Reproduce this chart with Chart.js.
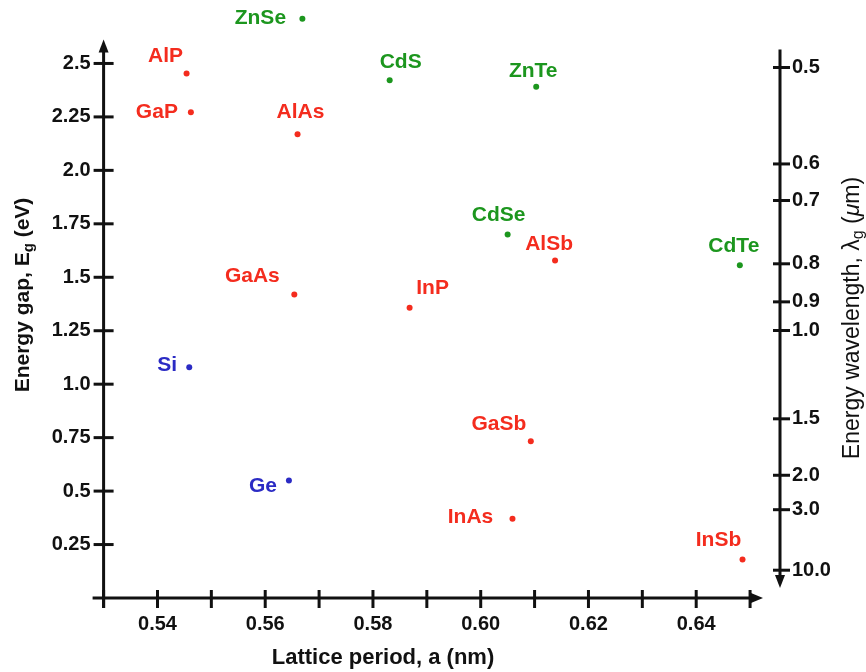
<!DOCTYPE html>
<html><head><meta charset="utf-8">
<script src="https://cdn.jsdelivr.net/npm/chart.js@4"></script>
<style>html,body{margin:0;padding:0;background:#fff}canvas{display:block}</style>
</head><body>
<canvas id="c" width="866" height="672"></canvas>
<script>
// ---- data ----
const iiivNames   = ['AlP','GaP','AlAs','GaAs','InP','AlSb','GaSb','InAs','InSb'];
const iiivLattice = [0.5454,0.5462,0.5660,0.5654,0.5868,0.6138,0.6093,0.6059,0.6486];
const iiivGap     = [2.453,2.272,2.169,1.419,1.357,1.578,0.733,0.371,0.180];

const iiviNames   = ['ZnSe','CdS','ZnTe','CdSe','CdTe'];
const iiviLattice = [0.5669,0.5831,0.6103,0.6050,0.6481];
const iiviGap     = [2.709,2.421,2.391,1.700,1.556];

const ivNames     = ['Si','Ge'];
const ivLattice   = [0.5459,0.5644];
const ivGap       = [1.079,0.549];

const xTickValues = [0.53,0.54,0.55,0.56,0.57,0.58,0.59,0.60,0.61,0.62,0.63,0.64,0.65];
const xTickLabels = ['','0.54','','0.56','','0.58','','0.60','','0.62','','0.64',''];
const yTickValues = [0.25,0.5,0.75,1.0,1.25,1.5,1.75,2.0,2.25,2.5];
const yTickLabels = ['0.25','0.5','0.75','1.0','1.25','1.5','1.75','2.0','2.25','2.5'];
const wavelengthLabels = ['0.5','0.6','0.7','0.8','0.9','1.0','1.5','2.0','3.0','10.0'];
const wavelengthGapPositions = [2.481,2.030,1.859,1.563,1.385,1.251,0.838,0.574,0.413,0.130];

// ---- styling ----
const RED = '#f42c1e', GREEN = '#1c961e', BLUE = '#2b2bc4', INK = '#111111';
const FAMILY = '"Liberation Sans", Arial, Helvetica, sans-serif';
const Y_ARROW_TIP = 2.612;   // where the left axis arrow ends (axis units)
const labelOffsets = {
  AlP:[-21,-17], GaP:[-34,0], AlAs:[3,-22], GaAs:[-42,-18], InP:[23,-20], AlSb:[-6,-16],
  GaSb:[-32,-17], InAs:[-42,-1], InSb:[-24,-19],
  ZnSe:[-42,-1], CdS:[11,-18], ZnTe:[-3,-16], CdSe:[-9,-19], CdTe:[-6,-19],
  Si:[-22,-2], Ge:[-26,6]
};

const mk = (names, xs, ys) => xs.map((x, i) => ({x: x, y: ys[i], name: names[i]}));
const pointStyle = c => ({backgroundColor: c, borderColor: c, pointRadius: 3, pointHoverRadius: 3, borderWidth: 0, clip: false});

const decoPlugin = {
  id: 'deco',
  afterDraw(chart) {
    const ctx = chart.ctx, a = chart.chartArea;
    const xs = chart.scales.x, ys = chart.scales.y, y2 = chart.scales.y2;
    ctx.save();
    ctx.strokeStyle = INK; ctx.fillStyle = INK; ctx.lineWidth = 3; ctx.lineCap = 'butt';
    const line = (x1, y1, x2, y2_) => { ctx.beginPath(); ctx.moveTo(x1, y1); ctx.lineTo(x2, y2_); ctx.stroke(); };
    const tri = (p) => { ctx.beginPath(); ctx.moveTo(p[0], p[1]); ctx.lineTo(p[2], p[3]); ctx.lineTo(p[4], p[5]); ctx.closePath(); ctx.fill(); };
    const x0 = xs.getPixelForValue(xs.min);
    const yb = ys.getPixelForValue(0);
    const yt = ys.getPixelForValue(Y_ARROW_TIP);
    // left axis
    line(x0, yt + 10, x0, yb + 10);
    tri([x0, yt, x0 - 5, yt + 13, x0 + 5, yt + 13]);
    ys.ticks.forEach(t => { const py = ys.getPixelForValue(t.value); line(x0 - 10, py, x0 + 10, py); });
    // bottom axis
    line(x0 - 11, yb, a.right - 9, yb);
    tri([a.right, yb, a.right - 12, yb - 5, a.right - 12, yb + 5]);
    xs.ticks.forEach(t => { const px = xs.getPixelForValue(t.value); line(px, yb - 8, px, yb + 10); });
    // right axis
    const xr = a.right + 17;
    line(xr, yt + 10, xr, yb - 20);
    tri([xr, yb - 10, xr - 5, yb - 23, xr + 5, yb - 23]);
    y2.ticks.forEach(t => { const py = y2.getPixelForValue(t.value); line(xr - 7, py, xr + 10, py); });

    // point labels
    ctx.textAlign = 'center'; ctx.textBaseline = 'middle';
    ctx.font = 'bold 21px ' + FAMILY;
    chart.data.datasets.forEach((ds, di) => {
      const meta = chart.getDatasetMeta(di);
      ctx.fillStyle = ds.backgroundColor;
      meta.data.forEach((el, j) => {
        const nm = ds.data[j].name, off = labelOffsets[nm] || [0, -18];
        ctx.fillText(nm, el.x + off[0], el.y + off[1]);
      });
    });

    // axis titles
    ctx.fillStyle = INK;
    const drawParts = (parts, cx, cy, rot) => {
      ctx.save(); ctx.translate(cx, cy); ctx.rotate(rot);
      ctx.textAlign = 'left'; ctx.textBaseline = 'middle';
      let total = 0;
      parts.forEach(p => { ctx.font = p.font; p.w = ctx.measureText(p.t).width; total += p.w; });
      let x = -total / 2;
      parts.forEach(p => { ctx.font = p.font; ctx.fillText(p.t, x, p.dy || 0); x += p.w; });
      ctx.restore();
    };
    const B21 = 'bold 21px ' + FAMILY, B15 = 'bold 15px ' + FAMILY;
    drawParts([{t: 'Energy gap, E', font: B21}, {t: 'g', font: B15, dy: 6}, {t: ' (eV)', font: B21}], 23, 295, -Math.PI / 2);
    const R23 = '23px ' + FAMILY, R16 = '16px ' + FAMILY, I23 = 'italic 23px ' + FAMILY;
    drawParts([{t: 'Energy wavelength, λ', font: R23}, {t: 'g', font: R16, dy: 6}, {t: ' (', font: R23}, {t: 'μ', font: I23}, {t: 'm)', font: R23}], 853, 318, -Math.PI / 2);
    drawParts([{t: 'Lattice period, a (nm)', font: 'bold 22px ' + FAMILY}], 383, 658, 0);
    ctx.restore();
  }
};

const tickFont = {family: FAMILY, size: 20, weight: 'bold'};
const noPad = s => { s.paddingTop = 0; s.paddingBottom = 0; s.paddingLeft = 0; s.paddingRight = 0; };

new Chart(document.getElementById('c'), {
  type: 'scatter',
  data: {
    datasets: [
      Object.assign({label: 'III-V', data: mk(iiivNames, iiivLattice, iiivGap)}, pointStyle(RED)),
      Object.assign({label: 'II-VI', data: mk(iiviNames, iiviLattice, iiviGap)}, pointStyle(GREEN)),
      Object.assign({label: 'IV', data: mk(ivNames, ivLattice, ivGap)}, pointStyle(BLUE))
    ]
  },
  options: {
    responsive: false, animation: false, devicePixelRatio: 1, events: [],
    layout: {padding: {top: 10, left: 0, right: 0, bottom: 0}},
    plugins: {legend: {display: false}, tooltip: {enabled: false}},
    scales: {
      x: {
        type: 'linear', position: 'bottom', min: 0.53, max: 0.6524,
        grid: {display: false, drawTicks: false}, border: {display: false},
        afterBuildTicks: s => { s.ticks = xTickValues.map(v => ({value: v})); },
        afterFit: s => { s.height = 74; noPad(s); },
        ticks: {autoSkip: false, maxRotation: 0, padding: 14, color: INK, font: tickFont,
                callback: (v, i) => xTickLabels[i]}
      },
      y: {
        type: 'linear', position: 'left', min: 0, max: 2.75,
        grid: {display: false, drawTicks: false}, border: {display: false},
        afterBuildTicks: s => { s.ticks = yTickValues.map(v => ({value: v})); },
        afterFit: s => { s.width = 103.6; noPad(s); },
        ticks: {autoSkip: false, padding: 13, color: INK, font: tickFont,
                callback: (v, i) => yTickLabels[i]}
      },
      y2: {
        type: 'linear', position: 'right', min: 0, max: 2.75,
        grid: {display: false, drawTicks: false}, border: {display: false},
        afterBuildTicks: s => { s.ticks = wavelengthGapPositions.map(v => ({value: v})); },
        afterFit: s => { s.width = 103; noPad(s); },
        ticks: {autoSkip: false, padding: 29, color: INK, font: tickFont,
                callback: (v, i) => wavelengthLabels[i]}
      }
    }
  },
  plugins: [decoPlugin]
});
</script>
</body></html>
